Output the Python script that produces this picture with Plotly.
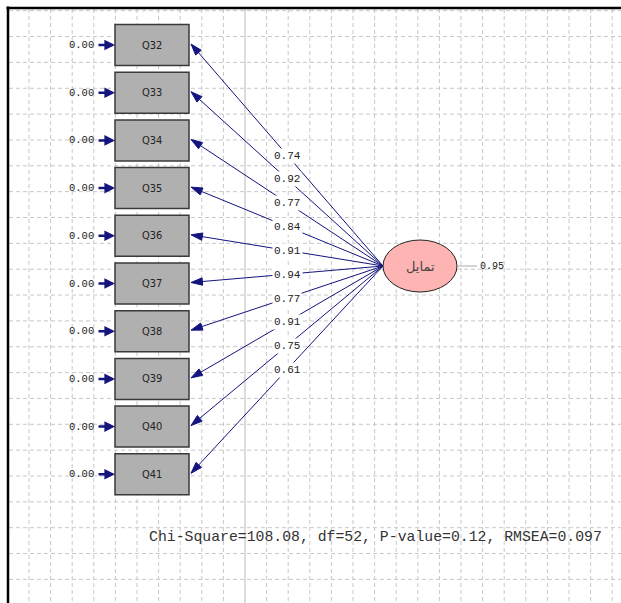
import numpy as np
import plotly.graph_objects as go

# ---- data ----
items = ["Q32", "Q33", "Q34", "Q35", "Q36", "Q37", "Q38", "Q39", "Q40", "Q41"]
loadings = [0.74, 0.92, 0.77, 0.84, 0.91, 0.94, 0.77, 0.91, 0.75, 0.61]
error_values = [0.00, 0.00, 0.00, 0.00, 0.00, 0.00, 0.00, 0.00, 0.00, 0.00]
factor_name = "تمایل"
factor_error = 0.95
chi_square = 108.08
dof = 52
p_value = 0.12
rmsea = 0.097

# ---- layout constants (page pixel space) ----
W, H = 621, 603
box_x0, box_x1 = 115, 189
first_cy, step, box_h = 45.0, 47.7, 41
ell_cx, ell_cy, ell_rx, ell_ry = 420, 266, 37, 26
navy = "#14147e"

fig = go.Figure()
shapes = []
annotations = []

# grid
for gx in np.arange(29, W + 1, 21.6):
    if abs(gx - 245) < 3:
        shapes.append(dict(type="line", x0=gx, x1=gx, y0=9, y1=H,
                           line=dict(color="#c4c4c4", width=1.2), layer="below"))
    else:
        shapes.append(dict(type="line", x0=gx, x1=gx, y0=9, y1=H,
                           line=dict(color="#c8c8c8", width=1, dash="4px,3px"), layer="below"))
for gy in np.arange(10.7, H + 1, 25.85):
    shapes.append(dict(type="line", x0=9, x1=W, y0=gy, y1=gy,
                       line=dict(color="#c8c8c8", width=1, dash="4px,3px"), layer="below"))

# frame
shapes.append(dict(type="line", x0=6.5, x1=W, y0=8, y1=8, line=dict(color="black", width=2.5)))
shapes.append(dict(type="line", x0=8, x1=8, y0=6.5, y1=H, line=dict(color="black", width=2.5)))

# observed variable boxes
for i, (name, ev) in enumerate(zip(items, error_values)):
    cy = first_cy + i * step
    shapes.append(dict(type="rect", x0=box_x0, x1=box_x1, y0=cy - box_h / 2, y1=cy + box_h / 2,
                       fillcolor="#b0b0b0", line=dict(color="#3a3a3a", width=1.5)))
    annotations.append(dict(x=(box_x0 + box_x1) / 2, y=cy, text=name, showarrow=False,
                            font=dict(family="Liberation Sans Narrow, DejaVu Sans Condensed", size=11, color="#222")))
    # error arrow
    annotations.append(dict(x=box_x0, y=cy, ax=97, ay=cy, axref="x", ayref="y", xref="x", yref="y",
                            text="", showarrow=True, arrowhead=2, arrowsize=0.85, arrowwidth=2.5,
                            arrowcolor=navy, standoff=0, startstandoff=0))
    annotations.append(dict(x=96, y=cy, text=f"{ev:.2f}", showarrow=False, xanchor="right",
                            font=dict(family="Liberation Mono", size=10.5, color="#222")))

# paths (factor -> item) with arrow markers at the item end
lx, ly = ell_cx - ell_rx, ell_cy
for i, (name, lam) in enumerate(zip(items, loadings)):
    cy = first_cy + i * step
    fig.add_trace(go.Scatter(
        x=[lx, box_x1 + 2], y=[ly, cy - 1], mode="lines+markers",
        line=dict(color=navy, width=1),
        marker=dict(symbol="arrow", angleref="previous", size=[0, 12], color=navy,
                    opacity=1, line=dict(width=1, color=navy)),
        hoverinfo="skip", name=name,
    ))
    mx, my = (lx + box_x1) / 2, (ly + cy) / 2
    annotations.append(dict(x=mx + 1, y=my, text=f"{lam:.2f}", showarrow=False,
                            bgcolor="white", borderpad=1,
                            font=dict(family="Liberation Mono", size=11, color="#222")))

# latent factor
shapes.append(dict(type="circle", x0=ell_cx - ell_rx, x1=ell_cx + ell_rx, y0=ell_cy - ell_ry, y1=ell_cy + ell_ry,
                   fillcolor="#ffb4b4", line=dict(color="#222", width=1)))
annotations.append(dict(x=ell_cx, y=ell_cy, text=factor_name, showarrow=False,
                        font=dict(family="DejaVu Sans", size=13, color="#444")))
shapes.append(dict(type="line", x0=ell_cx + ell_rx, x1=477, y0=ell_cy, y1=ell_cy,
                   line=dict(color="#aaaaaa", width=1)))
annotations.append(dict(x=478, y=ell_cy, text=f"{factor_error:.2f}", showarrow=False, xanchor="left",
                        font=dict(family="Liberation Mono", size=10, color="#222")))

# fit statistics
annotations.append(dict(x=147, y=537,
                        text=f"Chi-Square={chi_square:.2f}, df={dof}, P-value={p_value:.2f}, RMSEA={rmsea:.3f}",
                        showarrow=False, xanchor="left",
                        font=dict(family="Liberation Mono", size=14.8, color="#333")))

fig.update_layout(
    width=W, height=H, margin=dict(l=0, r=0, t=0, b=0),
    paper_bgcolor="white", plot_bgcolor="white",
    xaxis=dict(range=[0, W], visible=False, fixedrange=True),
    yaxis=dict(range=[H, 0], visible=False, fixedrange=True),
    shapes=shapes, annotations=annotations, showlegend=False,
)
fig.write_html("out.html", config={"displayModeBar": False},
               post_script="document.body.style.margin='0px';document.body.style.overflow='hidden';")
